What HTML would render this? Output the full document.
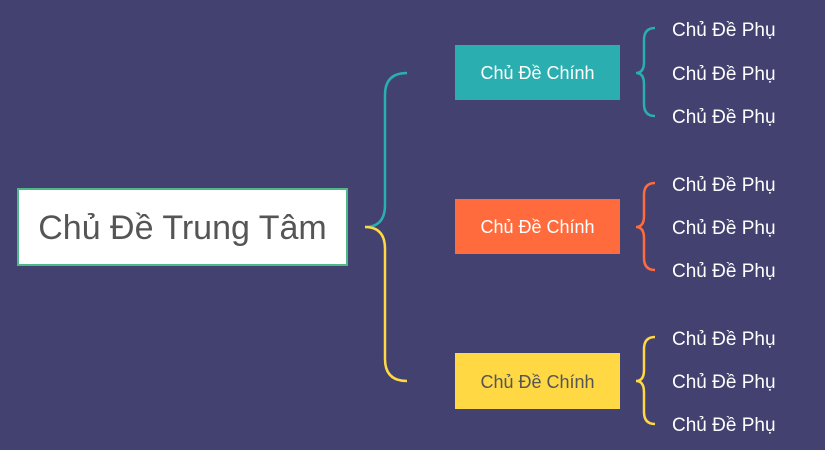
<!DOCTYPE html>
<html><head><meta charset="utf-8"><style>
body{margin:0;width:825px;height:450px;background:#42416f;font-family:"Liberation Sans","DejaVu Sans",sans-serif;overflow:hidden;position:relative}
.b{position:absolute;display:flex;align-items:center;justify-content:center;font-size:18px}
.s{position:absolute;left:672px;color:#fff;font-size:19px;line-height:22px}
</style></head><body>
<svg width="825" height="450" style="position:absolute;left:0;top:0" fill="none" stroke-width="2.5">
<path d="M365 227 Q385 227 385 205 L385 95 Q385 73 407 73" stroke="#2aaeb0"/>
<path d="M365 227 Q385 227 385 249 L385 359 Q385 381 407 381" stroke="#ffd843"/>
<path d="M655 28 Q644 28 644 40 L644 62 Q644 73 636 73 Q644 73 644 84 L644 104 Q644 116 655 116" stroke="#2aaeb0"/>
<path d="M655 183 Q644 183 644 195 L644 216 Q644 227 636 227 Q644 227 644 238 L644 258 Q644 270 655 270" stroke="#ff6b3d"/>
<path d="M655 337 Q644 337 644 349 L644 370 Q644 381 636 381 Q644 381 644 392 L644 412 Q644 424 655 424" stroke="#ffd843"/>
</svg>
<div class="b" style="left:17px;top:188px;width:327px;height:74px;background:#fff;border:2px solid #4fb889;color:#555;font-size:34px;padding-top:2px;box-sizing:content-box;height:72px">Chủ Đề Trung Tâm</div>
<div class="b" style="left:455px;top:45px;width:165px;height:55px;background:#2aaeb0;color:#fff;padding-top:2px;height:53px">Chủ Đề Chính</div>
<div class="b" style="left:455px;top:199px;width:165px;height:53px;padding-top:2px;background:#ff6b3d;color:#fff">Chủ Đề Chính</div>
<div class="b" style="left:455px;top:353px;width:165px;height:54px;padding-top:2px;background:#ffd843;color:#555">Chủ Đề Chính</div>
<div class="s" style="top:20px">Chủ Đề Phụ</div>
<div class="s" style="top:64px">Chủ Đề Phụ</div>
<div class="s" style="top:107px">Chủ Đề Phụ</div>
<div class="s" style="top:175px">Chủ Đề Phụ</div>
<div class="s" style="top:218px">Chủ Đề Phụ</div>
<div class="s" style="top:261px">Chủ Đề Phụ</div>
<div class="s" style="top:329px">Chủ Đề Phụ</div>
<div class="s" style="top:372px">Chủ Đề Phụ</div>
<div class="s" style="top:415px">Chủ Đề Phụ</div>
</body></html>
